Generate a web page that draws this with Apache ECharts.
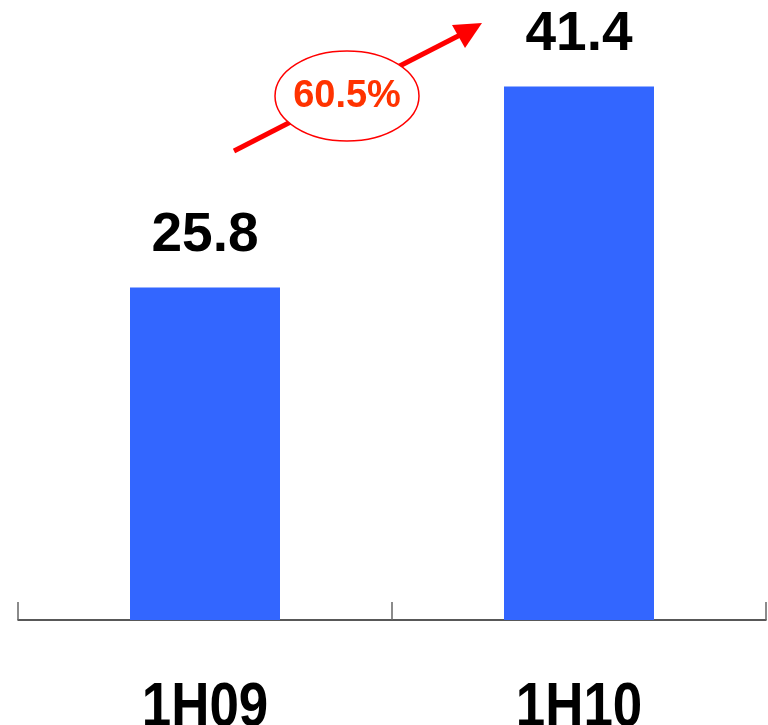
<!DOCTYPE html>
<html>
<head>
<meta charset="utf-8">
<script src="https://cdn.jsdelivr.net/npm/echarts@6/dist/echarts.min.js"></script>
<style>
  html, body { margin: 0; padding: 0; background: #ffffff; }
  #chart { width: 768px; height: 725px; }
</style>
</head>
<body>
<div id="chart"></div>
<script>
// Half-year figures
const categories = ['1H09', '1H10'];
const values = [25.8, 41.4];
const growthLabel = '60.5%';

const chart = echarts.init(document.getElementById('chart'), null, { renderer: 'canvas' });

const annotations = [
  {
    // growth arrow shaft
    type: 'line',
    shape: { x1: 234, y1: 151, x2: 462, y2: 34 },
    style: { stroke: '#FF0000', lineWidth: 5 },
    z: 10
  },
  {
    // arrow head
    type: 'polygon',
    shape: { points: [[482, 23], [452, 25], [465, 48]] },
    style: { fill: '#FF0000' },
    z: 10
  },
  {
    type: 'ellipse',
    shape: { cx: 347, cy: 96, rx: 72, ry: 45 },
    style: { fill: '#ffffff', stroke: '#FF0000', lineWidth: 1.5 },
    z: 11
  },
  {
    type: 'text',
    x: 347,
    y: 97,
    style: {
      text: growthLabel,
      fill: '#FF3300',
      fontFamily: '"Liberation Sans", Arial, sans-serif',
      fontWeight: 'bold',
      fontSize: 38,
      align: 'center',
      verticalAlign: 'middle'
    },
    z: 12
  }
];

chart.setOption({
  animation: false,
  backgroundColor: '#ffffff',
  grid: { left: 18, right: 2, top: 40, bottom: 105, containLabel: false, outerBoundsMode: 'none' },
  xAxis: {
    type: 'category',
    data: categories,
    boundaryGap: true,
    axisLine: { show: true, lineStyle: { color: '#222222', width: 1.5 } },
    axisTick: { show: true, inside: true, length: 18, lineStyle: { color: '#666666', width: 1.5 } },
    // category names are drawn below as condensed text
    axisLabel: { show: false }
  },
  yAxis: {
    type: 'value',
    min: 0,
    max: 45,
    show: false,
    splitLine: { show: false }
  },
  series: [{
    type: 'bar',
    data: values,
    barWidth: 150,
    itemStyle: { color: '#3366FF' },
    label: {
      show: true,
      position: 'top',
      distance: 24,
      color: '#000000',
      fontFamily: '"Liberation Sans", Arial, sans-serif',
      fontWeight: 'bold',
      fontSize: 55,
      formatter: p => p.value.toFixed(1)
    }
  }],
  graphic: annotations
});

// Condensed bold category names, centred on each category band
const baseY = chart.convertToPixel({ yAxisIndex: 0 }, 0);
const categoryTexts = categories.map(name => ({
  type: 'text',
  x: chart.convertToPixel({ xAxisIndex: 0 }, name),
  y: baseY + 89,
  scaleX: 0.84,
  style: {
    text: name,
    fill: '#000000',
    fontFamily: '"Liberation Sans", Arial, sans-serif',
    fontWeight: 'bold',
    fontSize: 63,
    align: 'center',
    verticalAlign: 'middle'
  },
  z: 5
}));

chart.setOption({ graphic: annotations.concat(categoryTexts) });
</script>
</body>
</html>
